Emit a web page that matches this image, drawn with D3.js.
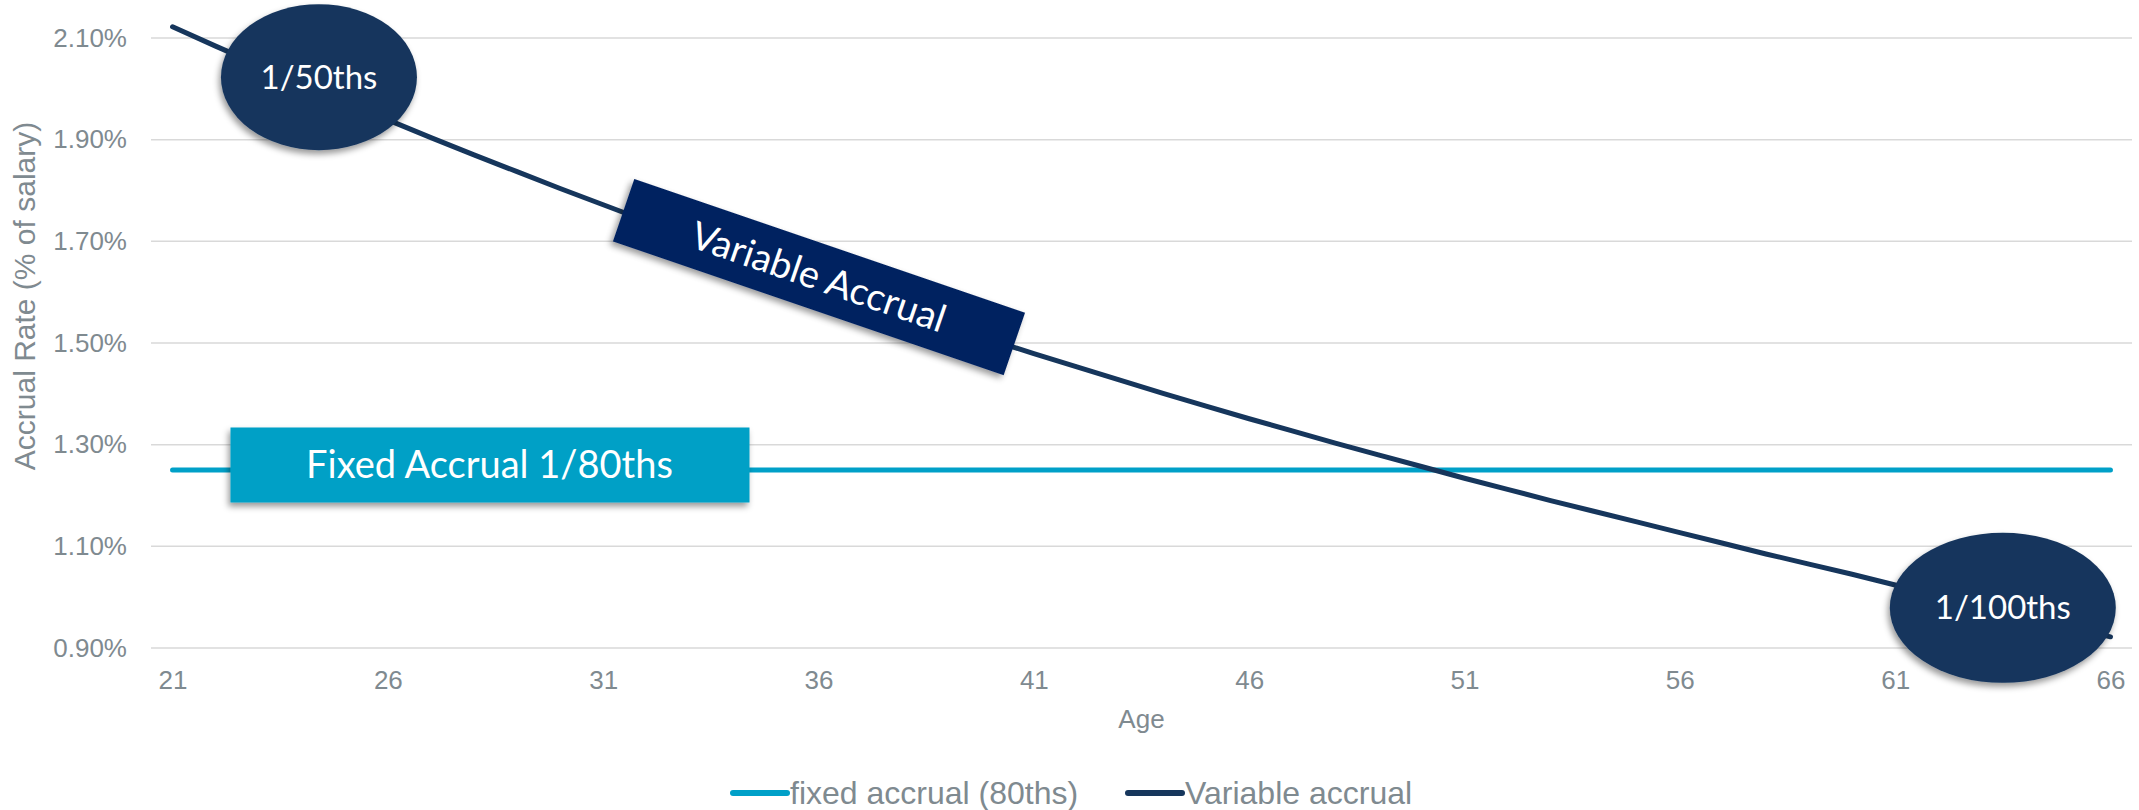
<!DOCTYPE html>
<html>
<head>
<meta charset="utf-8">
<script src="https://cdn.jsdelivr.net/npm/d3@7/dist/d3.min.js"></script>
<style>
  body { margin: 0; background: #fff; }
  svg { display: block; }
</style>
</head>
<body>
<div id="chart"></div>
<script>
// categories (age) and series values, in % of salary
const ages = [21, 22, 23, 24, 25, 26, 27, 28, 29, 30, 31, 32, 33, 34, 35, 36,
  37, 38, 39, 40, 41, 42, 43, 44, 45, 46, 47, 48, 49, 50, 51, 52, 53, 54, 55,
  56, 57, 58, 59, 60, 61, 62, 63, 64, 65, 66];

const fixedAccrual = [1.25, 1.25, 1.25, 1.25, 1.25, 1.25, 1.25, 1.25, 1.25,
  1.25, 1.25, 1.25, 1.25, 1.25, 1.25, 1.25, 1.25, 1.25, 1.25, 1.25, 1.25, 1.25,
  1.25, 1.25, 1.25, 1.25, 1.25, 1.25, 1.25, 1.25, 1.25, 1.25, 1.25, 1.25, 1.25,
  1.25, 1.25, 1.25, 1.25, 1.25, 1.25, 1.25, 1.25, 1.25, 1.25, 1.25];

const variableAccrual = [2.122, 2.084, 2.047, 2.010, 1.974, 1.939, 1.904, 1.870,
  1.837, 1.804, 1.772, 1.740, 1.709, 1.679, 1.649, 1.619, 1.590, 1.561, 1.533,
  1.506, 1.479, 1.453, 1.427, 1.401, 1.376, 1.351, 1.327, 1.303, 1.280, 1.257,
  1.234, 1.212, 1.190, 1.169, 1.148, 1.127, 1.106, 1.085, 1.065, 1.045, 1.024,
  1.004, 0.983, 0.963, 0.943, 0.922];

const xTickAges = [21, 26, 31, 36, 41, 46, 51, 56, 61, 66];
const yTicks = [0.9, 1.1, 1.3, 1.5, 1.7, 1.9, 2.1];

const seriesNames = ['fixed accrual (80ths)', 'Variable accrual'];

// callouts anchored in data space: [age, rate, text]
const ovalNotes = [[24.4, 2.023, '1/50ths'], [63.5, 0.979, '1/100ths']];
const variableNote = [36.0, 1.630, 'Variable Accrual'];
const fixedNote = [28.36, 1.261, 'Fixed Accrual 1/80ths'];

const width = 2139;
const height = 810;
const fixedColor = '#00a0c8';
const variableColor = '#16365c';
const grey = '#7f8a90';
const axisFont = '"Liberation Sans", Arial, sans-serif';
const noteFont = 'Lato, "Open Sans", sans-serif';

const svg = d3.select('#chart').append('svg')
  .attr('width', width)
  .attr('height', height);

const defs = svg.append('defs');
defs.append('filter')
  .attr('id', 'shadow')
  .attr('x', '-20%').attr('y', '-30%')
  .attr('width', '140%').attr('height', '170%')
  .append('feDropShadow')
  .attr('dx', -2).attr('dy', 4)
  .attr('stdDeviation', 3)
  .attr('flood-color', '#000')
  .attr('flood-opacity', 0.4);

const x = d3.scalePoint().domain(ages).range([151, 2132]).padding(0.5);
const y = d3.scaleLinear().domain([0.9, 2.1]).range([648, 38]);
const xAge = d3.scaleLinear().domain([ages[0], ages[ages.length - 1]])
  .range([x(ages[0]), x(ages[ages.length - 1])]);

// gridlines
svg.append('g')
  .selectAll('line')
  .data(yTicks)
  .enter()
  .append('line')
  .attr('x1', 151)
  .attr('x2', 2132)
  .attr('y1', d => y(d))
  .attr('y2', d => y(d))
  .attr('stroke', '#d9d9d9')
  .attr('stroke-width', 1.5);

// y axis labels
const yAxis = svg.append('g')
  .attr('transform', 'translate(151,0)')
  .call(d3.axisLeft(y).tickValues(yTicks).tickSize(0).tickPadding(24)
    .tickFormat(d => d.toFixed(2) + '%'));
yAxis.select('.domain').remove();
yAxis.selectAll('text')
  .attr('fill', grey)
  .style('font-family', axisFont)
  .style('font-size', '26px');

// x axis labels
const xAxis = svg.append('g')
  .attr('transform', 'translate(0,648)')
  .call(d3.axisBottom(x).tickValues(xTickAges).tickSize(0).tickPadding(23));
xAxis.select('.domain').remove();
xAxis.selectAll('text')
  .attr('fill', grey)
  .style('font-family', axisFont)
  .style('font-size', '26px');

// axis titles
svg.append('text')
  .attr('x', (151 + 2132) / 2)
  .attr('y', 728)
  .attr('text-anchor', 'middle')
  .attr('fill', grey)
  .style('font-family', axisFont)
  .style('font-size', '26px')
  .text('Age');

svg.append('text')
  .attr('transform', 'translate(35,296) rotate(-90)')
  .attr('text-anchor', 'middle')
  .attr('fill', grey)
  .style('font-family', axisFont)
  .style('font-size', '30px')
  .text('Accrual Rate (% of salary)');

// lines
const line = d3.line()
  .x((d, i) => x(ages[i]))
  .y(d => y(d));

svg.append('path')
  .datum(fixedAccrual)
  .attr('d', line)
  .attr('fill', 'none')
  .attr('stroke', fixedColor)
  .attr('stroke-width', 5)
  .attr('stroke-linecap', 'round');

svg.append('path')
  .datum(variableAccrual)
  .attr('d', line)
  .attr('fill', 'none')
  .attr('stroke', variableColor)
  .attr('stroke-width', 5)
  .attr('stroke-linecap', 'round')
  .attr('stroke-linejoin', 'round');

// callouts
const notes = svg.append('g');

const ovals = notes.selectAll('g.oval')
  .data(ovalNotes)
  .enter()
  .append('g')
  .attr('class', 'oval')
  .attr('transform', d => `translate(${xAge(d[0])},${y(d[1])})`);
ovals.append('ellipse')
  .attr('rx', (d, i) => (i === 0 ? 98 : 113))
  .attr('ry', (d, i) => (i === 0 ? 73 : 75))
  .attr('fill', '#17365d')
  .attr('filter', 'url(#shadow)');
ovals.append('text')
  .attr('text-anchor', 'middle')
  .attr('dy', '0.35em')
  .attr('fill', '#fff')
  .style('font-family', noteFont)
  .style('font-size', '33px')
  .text(d => d[2]);

const vGroup = notes.append('g')
  .attr('transform', `translate(${xAge(variableNote[0])},${y(variableNote[1])}) rotate(18.9)`);
vGroup.append('rect')
  .attr('x', -206).attr('y', -33)
  .attr('width', 413).attr('height', 66)
  .attr('fill', '#002060')
  .attr('filter', 'url(#shadow)');
vGroup.append('text')
  .attr('text-anchor', 'middle')
  .attr('dy', '0.35em')
  .attr('fill', '#fff')
  .style('font-family', noteFont)
  .style('font-size', '38px')
  .text(variableNote[2]);

const fGroup = notes.append('g')
  .attr('transform', `translate(${xAge(fixedNote[0])},${y(fixedNote[1])})`);
fGroup.append('rect')
  .attr('x', -259).attr('y', -37)
  .attr('width', 519).attr('height', 75)
  .attr('fill', '#00a0c6')
  .attr('filter', 'url(#shadow)');
fGroup.append('text')
  .attr('text-anchor', 'middle')
  .attr('dy', '0.35em')
  .attr('fill', '#fff')
  .style('font-family', noteFont)
  .style('font-size', '38px')
  .text(fixedNote[2]);

// legend
const legend = svg.append('g').attr('transform', 'translate(733,793)');
const items = legend.selectAll('g')
  .data(seriesNames)
  .enter()
  .append('g')
  .attr('transform', (d, i) => `translate(${i * 395},0)`);
items.append('line')
  .attr('x1', 0).attr('x2', 54)
  .attr('stroke', (d, i) => (i === 0 ? fixedColor : variableColor))
  .attr('stroke-width', 6)
  .attr('stroke-linecap', 'round');
items.append('text')
  .attr('x', 57)
  .attr('dy', '0.34em')
  .attr('fill', grey)
  .style('font-family', axisFont)
  .style('font-size', '32px')
  .text(d => d);
</script>
</body>
</html>
